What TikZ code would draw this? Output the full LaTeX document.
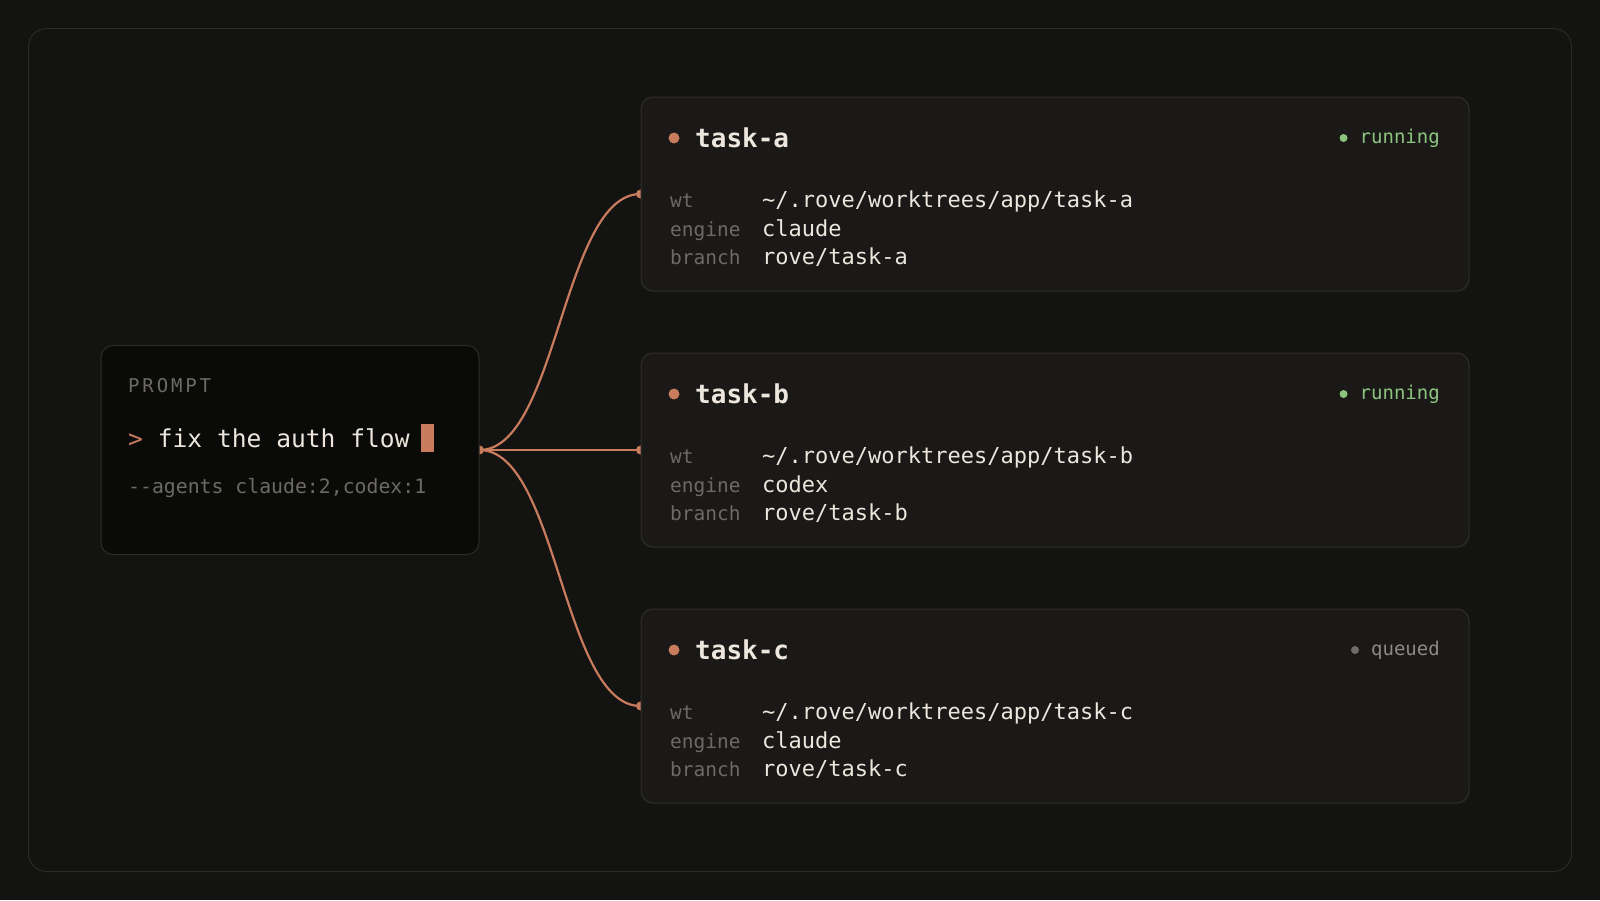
\documentclass[tikz,border=0pt]{standalone}
\usepackage{fontspec}
\newfontfamily\mono{DejaVu Sans Mono}
\newfontfamily\monobf{DejaVu Sans Mono Bold}
\newfontfamily\monols[LetterSpace=15]{DejaVu Sans Mono}
\usetikzlibrary{calc}
\pgfdeclarelayer{back}
\pgfdeclarelayer{links}
\pgfsetlayers{back,links,main}
\definecolor{cBg}{HTML}{131312}
\definecolor{cFrame}{HTML}{2A2A28}
\definecolor{cPFill}{HTML}{0A0A09}
\definecolor{cPBorder}{HTML}{2C2B28}
\definecolor{cTFill}{HTML}{1A1918}
\definecolor{cTBorder}{HTML}{302E2B}
\definecolor{cAccent}{HTML}{C97B5D}
\definecolor{cText}{HTML}{ECE6DC}
\definecolor{cLabel}{HTML}{6D6A64}
\definecolor{cGreen}{HTML}{8CC47E}
\definecolor{cQText}{HTML}{8C8A84}
\definecolor{cQDot}{HTML}{6F6D68}
\tikzset{
  frame/.style={draw=cFrame, line width=1pt, rounded corners=18pt},
  promptbox/.style={draw=cPBorder, fill=cPFill, line width=1pt, rounded corners=12pt,
    minimum width=378pt, minimum height=209pt, inner sep=0pt},
  taskbox/.style={draw=cTBorder, fill=cTFill, line width=1pt, rounded corners=12pt,
    minimum width=828pt, minimum height=194pt, inner sep=0pt},
  link/.style={draw=cAccent, line width=2.2pt},
  enddot/.style={circle, fill=cAccent, inner sep=0pt, minimum size=9pt},
  titledot/.style={circle, fill=cAccent, inner sep=0pt, minimum size=11pt},
  txt/.style={inner sep=0pt, anchor=base west},
  title/.style={txt, text=cText, font=\monobf\fontsize{26}{30}\selectfont},
  label/.style={txt, text=cLabel, font=\mono\fontsize{19.5}{24}\selectfont},
  value/.style={txt, text=cText, font=\mono\fontsize{22}{26}\selectfont},
  sttext/.style={inner sep=0pt, anchor=base east, font=\mono\fontsize{19}{24}\selectfont},
  sttextrun/.style={sttext, text=cGreen},
  sttextq/.style={sttext, text=cQText},
  stdot/.style={circle, inner sep=0pt, minimum size=8pt},
  stdotrun/.style={stdot, fill=cGreen},
  stdotq/.style={stdot, fill=cQDot},
}
% #1 name, #2 top y, #3 title, #4 engine, #5 status word, #6 status kind
\newcommand\mytaskcard[6]{%
  \node[taskbox] (#1) at (1055,{#2+97}) {};
  \node[titledot] (#1dot) at (674,{#2+41}) {};
  \node[title] (#1title) at (695,{#2+50}) {#3};
  \node[sttext#6] (#1st) at (1440,{#2+46}) {#5};
  \node[stdot#6] (#1sdot) at ($(#1st.base west)+(-16,-5)$) {};
  \node[label] (#1lwt) at (670,{#2+110}) {wt};
  \node[label] (#1leng) at (670,{#2+139}) {engine};
  \node[label] (#1lbr) at (670,{#2+167}) {branch};
  \node[value] (#1vwt) at (762,{#2+110}) {\textasciitilde/.rove/worktrees/app/#3};
  \node[value] (#1veng) at (762,{#2+139}) {#4};
  \node[value] (#1vbr) at (762,{#2+167}) {rove/#3};
}
\begin{document}
\begin{tikzpicture}[x=1pt, y=-1pt]
\useasboundingbox (0,0) rectangle (1600,900);
\begin{pgfonlayer}{back}
  \fill[cBg] (0,0) rectangle (1600,900);
  \draw[frame] (28.5,28.5) rectangle (1571.5,871.5);
\end{pgfonlayer}

% prompt card
\node[promptbox] (p) at (290,450) {};
\node[txt, text=cLabel, font=\monols\fontsize{19}{24}\selectfont] (plabel) at (128,392) {PROMPT};
\node[txt, font=\mono\fontsize{24.6}{30}\selectfont] (pcmd) at (128,447)
  {\textcolor{cAccent}{>} \textcolor{cText}{fix the auth flow}};
\fill[cAccent] (421,424) rectangle (434,452);
\node[txt, text=cLabel, font=\mono\fontsize{19.8}{24}\selectfont] (pargs) at (128,493)
  {-{}-agents claude:2,codex:1};

% task cards
\mytaskcard{ta}{97}{task-a}{claude}{running}{run}
\mytaskcard{tb}{353}{task-b}{codex}{running}{run}
\mytaskcard{tc}{609}{task-c}{claude}{queued}{q}

% connectors
\begin{pgfonlayer}{links}
  \coordinate (src) at (p.east);
  \foreach \t in {ta,tb,tc}{
    \draw[link] (src) .. controls +(78,0) and +(-78,0) .. (\t.west);
    \node[enddot] (\t end) at (\t.west) {};
  }
  \node[enddot] (srcdot) at (src) {};
\end{pgfonlayer}
\end{tikzpicture}
\end{document}
